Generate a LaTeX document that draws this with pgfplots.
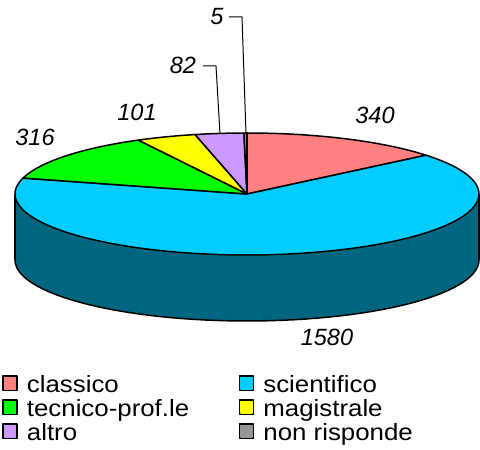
\documentclass[border=0pt]{standalone}
\usepackage{pgfplots}
\pgfplotsset{compat=1.18}
\usepackage{fontspec}
\setmainfont{Liberation Sans}
\newfontfamily\legfont[FakeStretch=1.1]{Liberation Sans}
\definecolor{cClassico}{HTML}{FF8080}
\definecolor{cScient}{HTML}{00CCFF}
\definecolor{cTecnico}{HTML}{00FF00}
\definecolor{cMagis}{HTML}{FFFF00}
\definecolor{cAltro}{HTML}{CC99FF}
\definecolor{cNonr}{HTML}{969696}
\definecolor{cSide}{HTML}{006680}
% data
\def\vA{340}\def\vB{1580}\def\vC{316}\def\vD{101}\def\vE{82}\def\vF{5}
\pgfmathsetmacro\tot{\vA+\vB+\vC+\vD+\vE+\vF}
\pgfmathsetmacro\aA{90}
\pgfmathsetmacro\aB{\aA-360*(\vA/\tot)}
\pgfmathsetmacro\aC{\aB-360*(\vB/\tot)}
\pgfmathsetmacro\aD{\aC-360*(\vC/\tot)}
\pgfmathsetmacro\aE{\aD-360*(\vD/\tot)}
\pgfmathsetmacro\aF{\aE-360*(\vE/\tot)}
\pgfmathsetmacro\aG{\aF-360*(\vF/\tot)}
\def\cx{247}\def\cy{256}\def\rx{232}\def\ry{61}\def\dep{66}
\pgfplotsset{legsq/.style={legend image code/.code={\fill[black] (0pt,-3.5pt) rectangle (14pt,11pt);
   \fill[#1] (1.6pt,-1.9pt) rectangle (12.4pt,9.4pt);}}}
\begin{document}
\begin{tikzpicture}
\begin{axis}[width=480pt, height=450pt, scale only axis,
  xmin=0, xmax=480, ymin=0, ymax=450, hide axis, clip=false,
  legend columns=2, legend cell align=left,
  legend style={at={(2.4/480,75/450)}, anchor=north west, draw=none, fill=none,
    inner sep=0pt, outer sep=0pt, row sep=0pt, column sep=0pt,
    font=\legfont\fontsize{23.5}{28}\selectfont,
    nodes={inner sep=0pt, outer sep=0pt, text height=17pt, text depth=7pt}},
  every axis plot/.append style={line width=1.5pt, line join=round},
]
% side wall
\addplot[fill=cSide, draw=black, domain=0:360, samples=120, forget plot]
  ({\cx+\rx*cos(x)},{\cy-\dep+\ry*sin(x)}) -- cycle;
\addplot[fill=cSide, draw=none, forget plot] coordinates {(\cx-\rx,\cy-\dep) (\cx+\rx,\cy-\dep) (\cx+\rx,\cy) (\cx-\rx,\cy)} -- cycle;
\addplot[black, forget plot] coordinates {(\cx-\rx,\cy-\dep) (\cx-\rx,\cy)};
\addplot[black, forget plot] coordinates {(\cx+\rx,\cy-\dep) (\cx+\rx,\cy)};
% top wedges
\addplot[fill=cClassico, draw=black, domain=\aB:\aA, samples=40, forget plot]
  ({\cx+\rx*cos(x)},{\cy+\ry*sin(x)}) -- (axis cs:\cx,\cy) -- cycle;
\addplot[fill=cScient, draw=black, domain=\aC:\aB, samples=120, forget plot]
  ({\cx+\rx*cos(x)},{\cy+\ry*sin(x)}) -- (axis cs:\cx,\cy) -- cycle;
\addplot[fill=cTecnico, draw=black, domain=\aD:\aC, samples=40, forget plot]
  ({\cx+\rx*cos(x)},{\cy+\ry*sin(x)}) -- (axis cs:\cx,\cy) -- cycle;
\addplot[fill=cMagis, draw=black, domain=\aE:\aD, samples=20, forget plot]
  ({\cx+\rx*cos(x)},{\cy+\ry*sin(x)}) -- (axis cs:\cx,\cy) -- cycle;
\addplot[fill=cAltro, draw=black, domain=\aF:\aE, samples=20, forget plot]
  ({\cx+\rx*cos(x)},{\cy+\ry*sin(x)}) -- (axis cs:\cx,\cy) -- cycle;
\addplot[fill=cNonr, draw=black, domain=\aG:\aF, samples=5, forget plot]
  ({\cx+\rx*cos(x)},{\cy+\ry*sin(x)}) -- (axis cs:\cx,\cy) -- cycle;
% leader lines
\addplot[black, line width=1pt, forget plot] coordinates {(203,384) (216,384) (220,316)};
\addplot[black, line width=1pt, forget plot] coordinates {(229,433) (242,433) (246,316)};
% value labels
\begin{scope}[font=\fontsize{23.5}{28}\selectfont\itshape]
\node at (axis cs:375,335) {340};
\node at (axis cs:327,113) {1580};
\node at (axis cs:35,313) {316};
\node at (axis cs:137,338) {101};
\node at (axis cs:183,385) {82};
\node at (axis cs:217,433) {5};
\end{scope}
% legend
\addlegendimage{legsq=cClassico}
\addlegendentry{\hspace{9pt}\makebox[212pt][l]{classico}}
\addlegendimage{legsq=cScient}
\addlegendentry{\hspace{9pt}scientifico}
\addlegendimage{legsq=cTecnico}
\addlegendentry{\hspace{9pt}\makebox[212pt][l]{tecnico-prof.le}}
\addlegendimage{legsq=cMagis}
\addlegendentry{\hspace{9pt}magistrale}
\addlegendimage{legsq=cAltro}
\addlegendentry{\hspace{9pt}\makebox[212pt][l]{altro}}
\addlegendimage{legsq=cNonr}
\addlegendentry{\hspace{9pt}non risponde}
\end{axis}
\pgfresetboundingbox
\path (current axis.south west) rectangle (current axis.north east);
\end{tikzpicture}
\end{document}
